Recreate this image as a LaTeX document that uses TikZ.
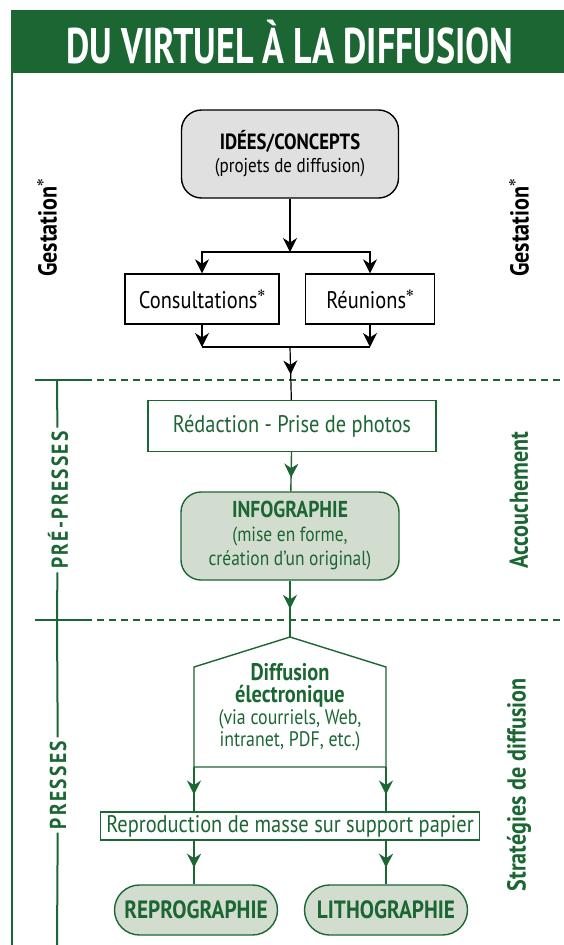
\documentclass[tikz,border=0pt]{standalone}
\usepackage{fontspec}
\setmainfont{PT Sans}[FakeStretch=0.85]
\newfontfamily\titlefont{PT Sans}[FakeStretch=0.72]
\newfontfamily\symfont{DejaVu Sans}
\usetikzlibrary{arrows.meta,decorations.markings}

\definecolor{vert}{HTML}{1B6633}
\definecolor{vertpale}{HTML}{D2DDD0}
\definecolor{grispale}{HTML}{E0E0E0}

\newcommand\etoile{\raisebox{1.0ex}{\symfont\fontsize{9}{9}\selectfont ✻}}
\newcommand\taille[1]{\fontsize{#1}{#1}\selectfont}

\tikzset{
  fleche/.style={-{Stealth[length=14pt,width=14pt,inset=4.5pt]}},
  milieu/.style={postaction={decorate},decoration={markings,
    mark=at position #1 with {\arrow{Stealth[length=14pt,width=14pt,inset=4.5pt]}}}},
  boite/.style={draw,line width=1.4pt,align=center,inner sep=2pt,
    font=\fontsize{24}{26}\selectfont},
  boitevert/.style={boite,draw=vert,text=vert},
  etape/.style={boitevert,fill=vertpale,rounded corners=20pt},
  cote/.style={rotate=90,font=\fontsize{26}{28}\selectfont\bfseries},
  section/.style={rotate=90,text=vert,font=\fontsize{23}{25}\selectfont\bfseries\addfontfeature{LetterSpace=10}},
  regle/.style={vert,line width=2pt},
  tirets/.style={vert,line width=1.2pt,dash pattern=on 7pt off 5pt}
}

\begin{document}
\begin{tikzpicture}[x=1pt,y=-1pt]
\useasboundingbox (0,0) rectangle (564,945);

\fill[vert] (11,10) rectangle (564,73);
\node[text=white,font=\titlefont\fontsize{50}{50}\selectfont\bfseries] (titre) at (290,42) {DU VIRTUEL À LA DIFFUSION};
\draw[regle] (12,73) -- (12,945);

\node[boite,fill=grispale,rounded corners=20pt,minimum width=217pt,minimum height=88pt,
  font=\fontsize{20}{23}\selectfont] (idees) at (290,154)
  {{\taille{22}\textbf{IDÉES/CONCEPTS}}\\(projets de diffusion)};
\node[boite,minimum width=154pt,minimum height=50pt] (consult) at (202,299) {Consultations\etoile};
\node[boite,minimum width=129pt,minimum height=50pt] (reunion) at (370,299) {Réunions\etoile};

\coordinate (split) at (290,252);
\coordinate (merge) at (290,347);

\draw[line width=1.2pt,fleche] (idees) -- (split);
\draw[line width=1.2pt,fleche] (split) -| (consult.north);
\draw[line width=1.2pt,fleche] (split) -| (reunion.north);
\draw[line width=1.2pt,fleche] (consult) -- (consult |- merge);
\draw[line width=1.2pt,fleche] (reunion) -- (reunion |- merge);
\draw[line width=1.2pt] (consult |- merge) -- (reunion |- merge);

\node[cote] (gestG) at (47,228) {Gestation\etoile};
\node[cote] (gestD) at (519,228) {Gestation\etoile};

\draw[regle] (35,380) -- (85,380);
\draw[tirets] (85,380) -- (564,380);
\draw[regle] (35,620) -- (85,620);
\draw[tirets] (85,620) -- (564,620);

\node[boitevert,fill=white,minimum width=288pt,minimum height=51pt] (redac) at (292,426) {Rédaction - Prise de photos};
\node[etape,minimum width=218pt,minimum height=88pt,font=\fontsize{20.5}{24}\selectfont] (info) at (290,536)
  {{\taille{23}\textbf{INFOGRAPHIE}}\\(mise en forme,\\création d’un original)};

\draw[line width=1.2pt,milieu=0.52] (merge) -- (redac);
\draw[regle,line width=1.4pt,milieu=0.65] (redac) -- (info);

\coordinate (apex) at (290,637);
\coordinate (pentG) at (194,767);
\coordinate (pentD) at (386,767);
\draw[vert,line width=1.4pt] (pentG) -- (pentD) -- (386,667) -- (apex) -- (194,667) -- cycle;
\node[text=vert,align=center,font=\fontsize{21}{22}\selectfont] (diff) at (290,707)
  {{\taille{24}\textbf{Diffusion}}\\{\taille{24}\textbf{électronique}}\\(via courriels, Web,\\intranet, PDF, etc.)};
\draw[regle,line width=1.4pt,milieu=0.5] (info) -- (apex);

\node[boitevert,fill=white,line width=1.2pt,minimum width=379pt,minimum height=28pt,inner sep=1pt] (repro) at (290,826)
  {Reproduction de masse sur support papier};
\node[etape,rounded corners=25pt,minimum width=163pt,minimum height=50pt,font=\fontsize{25}{27}\selectfont\bfseries] (reprog) at (196,910) {REPROGRAPHIE};
\node[etape,rounded corners=25pt,minimum width=163pt,minimum height=50pt,font=\fontsize{25}{27}\selectfont\bfseries] (litho) at (386,910) {LITHOGRAPHIE};

\draw[regle,line width=1.4pt,milieu=0.62] (pentG) -- (pentG |- repro.north);
\draw[regle,line width=1.4pt,milieu=0.62] (pentD) -- (pentD |- repro.north);
\draw[regle,line width=1.4pt,milieu=0.62] (repro.south -| pentG) -- (pentG |- reprog.north);
\draw[regle,line width=1.4pt,milieu=0.62] (repro.south -| litho) -- (litho);

\node[cote,text=vert] (accouch) at (519,500) {Accouchement};
\node[cote,text=vert] (strat) at (519,785) {Stratégies de diffusion};

\node[section] (prep) at (58,500) {PRÉ-PRESSES};
\node[section] (pres) at (58,785) {PRESSES};
\coordinate (haut1) at (57,380);
\coordinate (haut2) at (57,620);
\coordinate (bas) at (57,945);
\draw[regle] (haut1) -- (prep);
\draw[regle] (prep) -- (haut2);
\draw[regle] (haut2) -- (pres);
\draw[regle] (pres) -- (bas);
\end{tikzpicture}
\end{document}
